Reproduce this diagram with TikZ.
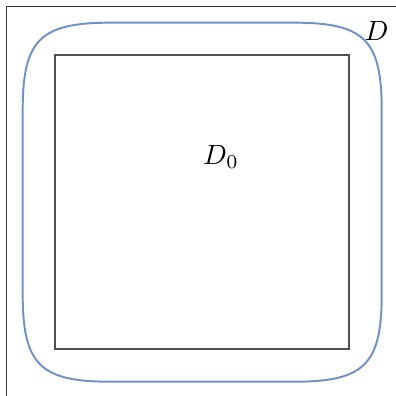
\documentclass[tikz,border=0pt]{standalone}
\usepackage{xcolor}
\usepackage{tikz}
\usepackage{amsmath}
\usetikzlibrary{positioning}
\definecolor{domblue}{RGB}{110,145,200}
\definecolor{sqgray}{RGB}{80,80,80}

\begin{document}
\begin{tikzpicture}[
  x=0.0126cm, y=-0.0126cm,
  frameline/.style={draw=black!80, line width=0.4pt},
  domcurve/.style={draw=domblue, line width=0.7pt},
  innersq/.style={draw=sqgray, line width=0.55pt},
  lbl/.style={font=\normalsize, inner sep=0pt},
]
\useasboundingbox (0,0) rectangle (396,396);

% ── Frame (left and top only)
\coordinate (frameTL) at (6.5,6.5);
\draw[frameline] (6.5,396) -- (frameTL) -- (396,6.5);

% ── Outer domain D (smooth rounded square)
\coordinate (dL) at (22.7,202.2);
\draw[domcurve] (dL) -- (22.7,110) .. controls (22.7,40) and (40,22.7) .. (110,22.7)
  -- (294.4,22.7) .. controls (364.4,22.7) and (381.7,40) .. (381.7,110)
  -- (381.7,294.4) .. controls (381.7,364.4) and (364.4,381.7) .. (294.4,381.7)
  -- (110,381.7) .. controls (40,381.7) and (22.7,364.4) .. (22.7,294.4) -- cycle;
\node[lbl] (labD) at (376.5,30.5) {$D$};

% ── Inner square D_0
\draw[innersq] (55,55) rectangle (349,349);
\node[lbl] (labDzero) at (221,157) {$D_0$};

\end{tikzpicture}
\end{document}
